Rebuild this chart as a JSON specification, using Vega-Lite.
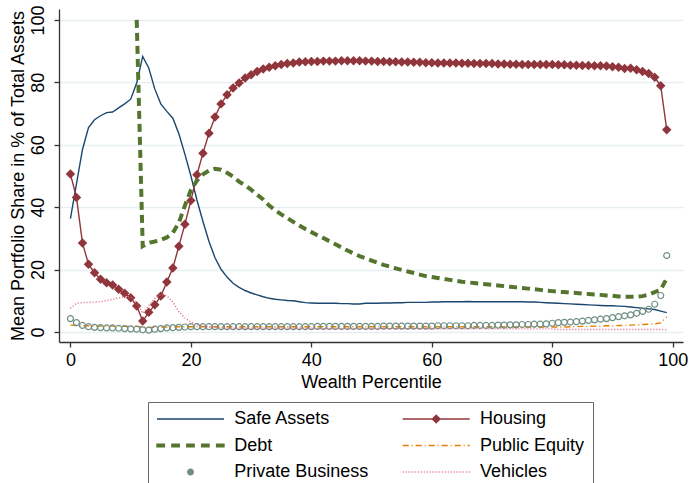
{
  "$schema": "https://vega.github.io/schema/vega-lite/v6.json",
  "width": 624,
  "height": 333,
  "autosize": "none",
  "padding": {"left": 59, "top": 9, "right": 6, "bottom": 141},
  "background": "#ffffff",
  "config": {
    "view": {"stroke": null},
    "font": "Liberation Sans",
    "axis": {
      "labelFont": "Liberation Sans",
      "titleFont": "Liberation Sans",
      "labelFontSize": 18,
      "titleFontSize": 18,
      "titleFontWeight": "normal",
      "labelColor": "#000000",
      "titleColor": "#000000",
      "domainColor": "#333333",
      "domainWidth": 1.3,
      "tickColor": "#333333",
      "tickWidth": 1.3,
      "tickSize": 5
    },
    "legend": {
      "labelFont": "Liberation Sans",
      "labelFontSize": 18,
      "labelColor": "#000000",
      "labelOffset": 60.3,
      "rowPadding": 8.5,
      "columnPadding": 30.7,
      "padding": 8,
      "strokeColor": "#666666",
      "fillColor": "#ffffff",
      "symbolStrokeWidth": 1.4
    }
  },
  "data": {
    "values": [
      {"p": 0, "s": 36.3, "h": 50.6, "d": null, "e": 2.2, "b": 4.3, "v": 7.6},
      {"p": 1, "s": 47.5, "h": 43.1, "d": null, "e": 2.1, "b": 3.0, "v": 9.2},
      {"p": 2, "s": 58.5, "h": 28.5, "d": null, "e": 2.0, "b": 2.1, "v": 9.4},
      {"p": 3, "s": 65.5, "h": 21.7, "d": null, "e": 2.0, "b": 1.7, "v": 9.5},
      {"p": 4, "s": 68.0, "h": 19.0, "d": null, "e": 1.9, "b": 1.5, "v": 9.6},
      {"p": 5, "s": 69.3, "h": 16.9, "d": null, "e": 1.9, "b": 1.4, "v": 9.7},
      {"p": 6, "s": 70.3, "h": 15.8, "d": null, "e": 1.9, "b": 1.3, "v": 10.1},
      {"p": 7, "s": 70.5, "h": 15.1, "d": null, "e": 1.9, "b": 1.3, "v": 10.5},
      {"p": 8, "s": 71.8, "h": 13.7, "d": null, "e": 1.8, "b": 1.2, "v": 10.9},
      {"p": 9, "s": 73.1, "h": 12.4, "d": null, "e": 1.8, "b": 1.1, "v": 11.4},
      {"p": 10, "s": 74.6, "h": 11.0, "d": null, "e": 1.8, "b": 1.0, "v": 11.2},
      {"p": 11, "s": 79.8, "h": 8.3, "d": 100, "e": 1.8, "b": 0.9, "v": 9.5},
      {"p": 12, "s": 88.3, "h": 3.5, "d": 27.5, "e": 1.6, "b": 0.7, "v": 6.0},
      {"p": 13, "s": 84.6, "h": 6.3, "d": 28.6, "e": 1.5, "b": 0.6, "v": 8.5},
      {"p": 14, "s": 77.9, "h": 8.7, "d": 29.0, "e": 1.5, "b": 0.9, "v": 10.8},
      {"p": 15, "s": 73.1, "h": 11.5, "d": 29.5, "e": 1.6, "b": 1.1, "v": 12.0},
      {"p": 16, "s": 70.7, "h": 16.0, "d": 30.3, "e": 1.6, "b": 1.3, "v": 11.6},
      {"p": 17, "s": 68.5, "h": 20.5, "d": 31.8, "e": 1.7, "b": 1.4, "v": 9.6},
      {"p": 18, "s": 63.5, "h": 27.5, "d": 35.0, "e": 1.7, "b": 1.5, "v": 6.5},
      {"p": 19, "s": 57.0, "h": 34.5, "d": 40.5, "e": 1.7, "b": 1.6, "v": 4.5},
      {"p": 20, "s": 50.0, "h": 42.1, "d": 45.5, "e": 1.7, "b": 1.7, "v": 3.2},
      {"p": 21, "s": 42.3, "h": 50.4, "d": 48.5, "e": 1.7, "b": 1.7, "v": 2.4},
      {"p": 22, "s": 35.4, "h": 57.3, "d": 50.5, "e": 1.7, "b": 1.7, "v": 1.9},
      {"p": 23, "s": 29.0, "h": 63.7, "d": 51.7, "e": 1.7, "b": 1.7, "v": 1.6},
      {"p": 24, "s": 23.8, "h": 68.9, "d": 52.3, "e": 1.7, "b": 1.7, "v": 1.4},
      {"p": 25, "s": 20.1, "h": 73.1, "d": 52.0, "e": 1.7, "b": 1.7, "v": 1.3},
      {"p": 26, "s": 17.6, "h": 76.0, "d": 51.0, "e": 1.7, "b": 1.7, "v": 1.2},
      {"p": 27, "s": 15.6, "h": 78.2, "d": 49.8, "e": 1.7, "b": 1.7, "v": 1.2},
      {"p": 28, "s": 14.3, "h": 79.8, "d": 48.2, "e": 1.7, "b": 1.7, "v": 1.2},
      {"p": 29, "s": 13.3, "h": 81.4, "d": 47.0, "e": 1.7, "b": 1.7, "v": 1.2},
      {"p": 30, "s": 12.5, "h": 82.4, "d": 45.6, "e": 1.7, "b": 1.7, "v": 1.2},
      {"p": 31, "s": 11.9, "h": 83.5, "d": 44.0, "e": 1.7, "b": 1.7, "v": 1.2},
      {"p": 32, "s": 11.3, "h": 84.3, "d": 42.5, "e": 1.7, "b": 1.7, "v": 1.2},
      {"p": 33, "s": 10.8, "h": 84.8, "d": 40.5, "e": 1.7, "b": 1.7, "v": 1.2},
      {"p": 34, "s": 10.5, "h": 85.3, "d": 39.0, "e": 1.7, "b": 1.7, "v": 1.2},
      {"p": 35, "s": 10.3, "h": 85.7, "d": 37.7, "e": 1.7, "b": 1.7, "v": 1.2},
      {"p": 36, "s": 10.1, "h": 86.0, "d": 36.5, "e": 1.7, "b": 1.7, "v": 1.2},
      {"p": 37, "s": 10.0, "h": 86.2, "d": 35.3, "e": 1.7, "b": 1.7, "v": 1.2},
      {"p": 38, "s": 9.7, "h": 86.5, "d": 34.1, "e": 1.7, "b": 1.7, "v": 1.2},
      {"p": 39, "s": 9.4, "h": 86.6, "d": 33.0, "e": 1.7, "b": 1.7, "v": 1.2},
      {"p": 40, "s": 9.3, "h": 86.7, "d": 32.0, "e": 1.7, "b": 1.7, "v": 1.2},
      {"p": 41, "s": 9.2, "h": 86.7, "d": 31.0, "e": 1.7, "b": 1.8, "v": 1.1},
      {"p": 42, "s": 9.2, "h": 86.8, "d": 30.1, "e": 1.7, "b": 1.8, "v": 1.1},
      {"p": 43, "s": 9.2, "h": 86.8, "d": 29.1, "e": 1.7, "b": 1.8, "v": 1.1},
      {"p": 44, "s": 9.2, "h": 86.8, "d": 28.1, "e": 1.7, "b": 1.8, "v": 1.1},
      {"p": 45, "s": 9.1, "h": 86.9, "d": 27.1, "e": 1.7, "b": 1.8, "v": 1.1},
      {"p": 46, "s": 9.1, "h": 86.9, "d": 26.1, "e": 1.7, "b": 1.8, "v": 1.1},
      {"p": 47, "s": 9.0, "h": 86.9, "d": 25.2, "e": 1.7, "b": 1.8, "v": 1.1},
      {"p": 48, "s": 9.0, "h": 86.9, "d": 24.3, "e": 1.7, "b": 1.8, "v": 1.1},
      {"p": 49, "s": 9.2, "h": 86.8, "d": 23.6, "e": 1.7, "b": 1.8, "v": 1.1},
      {"p": 50, "s": 9.2, "h": 86.8, "d": 22.9, "e": 1.7, "b": 1.8, "v": 1.1},
      {"p": 51, "s": 9.2, "h": 86.7, "d": 22.2, "e": 1.7, "b": 1.8, "v": 1.1},
      {"p": 52, "s": 9.3, "h": 86.7, "d": 21.5, "e": 1.7, "b": 1.9, "v": 1.1},
      {"p": 53, "s": 9.3, "h": 86.6, "d": 21.0, "e": 1.7, "b": 1.9, "v": 1.1},
      {"p": 54, "s": 9.4, "h": 86.6, "d": 20.4, "e": 1.7, "b": 1.9, "v": 1.1},
      {"p": 55, "s": 9.4, "h": 86.5, "d": 19.9, "e": 1.7, "b": 1.9, "v": 1.1},
      {"p": 56, "s": 9.5, "h": 86.5, "d": 19.4, "e": 1.7, "b": 1.9, "v": 1.1},
      {"p": 57, "s": 9.5, "h": 86.4, "d": 18.9, "e": 1.7, "b": 1.9, "v": 1.1},
      {"p": 58, "s": 9.5, "h": 86.4, "d": 18.4, "e": 1.7, "b": 1.9, "v": 1.1},
      {"p": 59, "s": 9.5, "h": 86.3, "d": 17.9, "e": 1.7, "b": 1.9, "v": 1.1},
      {"p": 60, "s": 9.6, "h": 86.3, "d": 17.6, "e": 1.7, "b": 1.9, "v": 1.0},
      {"p": 61, "s": 9.6, "h": 86.2, "d": 17.3, "e": 1.7, "b": 2.0, "v": 1.0},
      {"p": 62, "s": 9.7, "h": 86.2, "d": 17.0, "e": 1.7, "b": 2.0, "v": 1.0},
      {"p": 63, "s": 9.7, "h": 86.2, "d": 16.7, "e": 1.7, "b": 2.0, "v": 1.0},
      {"p": 64, "s": 9.7, "h": 86.2, "d": 16.4, "e": 1.7, "b": 2.0, "v": 1.0},
      {"p": 65, "s": 9.7, "h": 86.1, "d": 16.1, "e": 1.7, "b": 2.0, "v": 1.0},
      {"p": 66, "s": 9.8, "h": 86.1, "d": 15.9, "e": 1.7, "b": 2.0, "v": 1.0},
      {"p": 67, "s": 9.7, "h": 86.0, "d": 15.7, "e": 1.7, "b": 2.1, "v": 1.0},
      {"p": 68, "s": 9.7, "h": 86.0, "d": 15.5, "e": 1.7, "b": 2.1, "v": 1.0},
      {"p": 69, "s": 9.7, "h": 86.0, "d": 15.3, "e": 1.7, "b": 2.1, "v": 1.0},
      {"p": 70, "s": 9.7, "h": 86.0, "d": 15.1, "e": 1.7, "b": 2.1, "v": 1.0},
      {"p": 71, "s": 9.7, "h": 85.9, "d": 14.9, "e": 1.7, "b": 2.2, "v": 1.0},
      {"p": 72, "s": 9.7, "h": 85.9, "d": 14.7, "e": 1.7, "b": 2.2, "v": 1.0},
      {"p": 73, "s": 9.7, "h": 85.8, "d": 14.5, "e": 1.7, "b": 2.3, "v": 1.0},
      {"p": 74, "s": 9.7, "h": 85.8, "d": 14.3, "e": 1.6, "b": 2.3, "v": 1.0},
      {"p": 75, "s": 9.7, "h": 85.7, "d": 14.1, "e": 1.6, "b": 2.4, "v": 1.0},
      {"p": 76, "s": 9.6, "h": 85.7, "d": 13.9, "e": 1.6, "b": 2.4, "v": 1.0},
      {"p": 77, "s": 9.6, "h": 85.7, "d": 13.7, "e": 1.6, "b": 2.5, "v": 1.0},
      {"p": 78, "s": 9.5, "h": 85.7, "d": 13.5, "e": 1.6, "b": 2.5, "v": 1.0},
      {"p": 79, "s": 9.4, "h": 85.7, "d": 13.3, "e": 1.6, "b": 2.6, "v": 1.0},
      {"p": 80, "s": 9.3, "h": 85.7, "d": 13.1, "e": 1.6, "b": 2.8, "v": 1.0},
      {"p": 81, "s": 9.2, "h": 85.6, "d": 12.9, "e": 1.6, "b": 3.0, "v": 0.8},
      {"p": 82, "s": 9.1, "h": 85.6, "d": 12.8, "e": 1.6, "b": 3.1, "v": 0.8},
      {"p": 83, "s": 9.0, "h": 85.5, "d": 12.6, "e": 1.7, "b": 3.2, "v": 0.8},
      {"p": 84, "s": 8.9, "h": 85.5, "d": 12.5, "e": 1.7, "b": 3.3, "v": 0.8},
      {"p": 85, "s": 8.8, "h": 85.4, "d": 12.3, "e": 1.8, "b": 3.5, "v": 0.8},
      {"p": 86, "s": 8.7, "h": 85.4, "d": 12.2, "e": 1.8, "b": 3.7, "v": 0.8},
      {"p": 87, "s": 8.6, "h": 85.3, "d": 12.0, "e": 1.9, "b": 3.9, "v": 0.8},
      {"p": 88, "s": 8.5, "h": 85.3, "d": 11.9, "e": 1.9, "b": 4.1, "v": 0.8},
      {"p": 89, "s": 8.4, "h": 85.2, "d": 11.7, "e": 2.0, "b": 4.3, "v": 0.8},
      {"p": 90, "s": 8.4, "h": 85.0, "d": 11.6, "e": 2.0, "b": 4.6, "v": 0.8},
      {"p": 91, "s": 8.3, "h": 84.8, "d": 11.4, "e": 2.1, "b": 4.9, "v": 0.8},
      {"p": 92, "s": 8.2, "h": 84.4, "d": 11.3, "e": 2.1, "b": 5.2, "v": 0.8},
      {"p": 93, "s": 8.0, "h": 84.5, "d": 11.3, "e": 2.2, "b": 5.5, "v": 0.8},
      {"p": 94, "s": 7.8, "h": 84.0, "d": 11.3, "e": 2.3, "b": 6.0, "v": 0.8},
      {"p": 95, "s": 7.6, "h": 83.5, "d": 11.5, "e": 2.4, "b": 6.6, "v": 0.8},
      {"p": 96, "s": 7.4, "h": 82.8, "d": 12.0, "e": 2.5, "b": 7.3, "v": 0.8},
      {"p": 97, "s": 7.2, "h": 81.6, "d": 12.8, "e": 2.6, "b": 8.9, "v": 0.8},
      {"p": 98, "s": 6.7, "h": 78.9, "d": 13.5, "e": 2.9, "b": 11.7, "v": 0.8},
      {"p": 99, "s": 6.2, "h": 64.8, "d": 17.2, "e": 4.9, "b": 24.5, "v": 0.7}
    ]
  },
  "encoding": {
    "x": {
      "field": "p",
      "type": "quantitative",
      "scale": {"domain": [-1.9, 101.7], "nice": false, "zero": false},
      "axis": {
        "values": [0, 20, 40, 60, 80, 100],
        "title": "Wealth Percentile",
        "grid": false,
        "labelPadding": 4,
        "titlePadding": 4
      }
    }
  },
  "layer": [
    {
      "mark": {"type": "line", "strokeWidth": 1.4},
      "encoding": {
        "y": {
          "field": "s",
          "type": "quantitative",
          "scale": {"domain": [-3.2, 103.5], "nice": false, "zero": false},
          "axis": {
            "values": [0, 20, 40, 60, 80, 100],
            "title": "Mean Portfolio Share in % of Total Assets",
            "grid": true,
            "gridColor": "#e6eef2",
            "gridWidth": 1.3,
            "labelAngle": -90,
            "labelAlign": "center",
            "labelBaseline": "bottom",
            "labelPadding": 7,
            "titleAngle": -90,
            "titleX": -40.5,
            "titleY": 166.5,
            "titleAlign": "center",
            "titleBaseline": "middle"
          }
        },
        "color": {
          "datum": "Safe Assets",
          "type": "nominal",
          "scale": {
            "domain": ["Safe Assets", "Debt", "Private Business", "Housing", "Public Equity", "Vehicles"],
            "range": ["#1a476f", "#55752f", "#6e8e84", "#90353b", "#e37e00", "#e0607e"]
          },
          "legend": {
            "title": null,
            "orient": "none",
            "legendX": 89,
            "legendY": 393,
            "columns": 2,
            "symbolSize": 256,
            "encode": {
              "symbols": {
                "update": {
                  "size": {"value": 256},
                  "shape": {"signal": "datum.value === 'Housing' ? 'M-1,0H7.375M3.19,-0.47L3.66,0L3.19,0.47L2.72,0Z' : datum.value === 'Private Business' ? 'M3.55,0L3.445,0.255L3.19,0.36L2.935,0.255L2.83,0L2.935,-0.255L3.19,-0.36L3.445,-0.255Z' : datum.value === 'Debt' ? 'M-1,-0.16H-0.075V0.16H-1Z M0.86,-0.16H1.785V0.16H0.86Z M2.72,-0.16H3.645V0.16H2.72Z M4.58,-0.16H5.505V0.16H4.58Z M6.45,-0.16H7.375V0.16H6.45Z' : 'M-1,0H7.375'"},
                  "strokeDash": {"signal": "datum.value === 'Public Equity' ? [6, 3, 1, 3] : datum.value === 'Vehicles' ? [1, 2] : [1, 0]"},
                  "fill": {"signal": "datum.value === 'Housing' ? '#90353b' : datum.value === 'Debt' ? '#55752f' : 'transparent'"},
                  "opacity": {"value": 1}
                }
              }
            }
          }
        }
      }
    },
    {
      "mark": {"type": "line", "strokeWidth": 1.4},
      "encoding": {
        "y": {"field": "h", "type": "quantitative"},
        "color": {"datum": "Housing", "type": "nominal"}
      }
    },
    {
      "mark": {"type": "point", "shape": "diamond", "filled": true, "size": 90, "opacity": 1},
      "encoding": {
        "y": {"field": "h", "type": "quantitative"},
        "color": {"datum": "Housing", "type": "nominal"}
      }
    },
    {
      "mark": {"type": "line", "strokeWidth": 4, "strokeDash": [8, 5]},
      "encoding": {
        "y": {"field": "d", "type": "quantitative"},
        "color": {"datum": "Debt", "type": "nominal"}
      }
    },
    {
      "mark": {"type": "line", "strokeWidth": 1.4, "strokeDash": [6, 3, 1, 3]},
      "encoding": {
        "y": {"field": "e", "type": "quantitative"},
        "color": {"datum": "Public Equity", "type": "nominal"}
      }
    },
    {
      "mark": {"type": "point", "shape": "circle", "filled": false, "size": 36, "strokeWidth": 1.2, "opacity": 1},
      "encoding": {
        "y": {"field": "b", "type": "quantitative"},
        "color": {"datum": "Private Business", "type": "nominal"}
      }
    },
    {
      "mark": {"type": "line", "strokeWidth": 1.4, "strokeDash": [1, 2]},
      "encoding": {
        "y": {"field": "v", "type": "quantitative"},
        "color": {"datum": "Vehicles", "type": "nominal"}
      }
    }
  ]
}
